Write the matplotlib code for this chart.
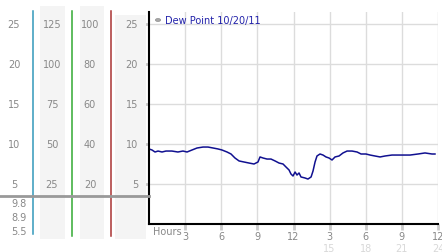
import matplotlib
matplotlib.use("Agg")
import matplotlib.pyplot as plt
from matplotlib.patches import Rectangle
import matplotlib.transforms as mtransforms

# ---- data ----
hours = [0.0, 0.25, 0.5, 0.75, 1.08, 1.41, 1.9, 2.4, 2.82, 3.16, 3.57, 3.99, 4.49, 4.9,
         5.32, 5.73, 6.06, 6.48, 6.81, 7.14, 7.48, 7.89, 8.31, 8.72, 9.05, 9.22, 9.47,
         9.8, 10.13, 10.47, 10.8, 11.13, 11.38, 11.63, 11.79, 11.96, 12.13, 12.29, 12.46,
         12.62, 12.96, 13.2, 13.46, 13.62, 13.79, 13.95, 14.2, 14.45, 14.7, 14.95, 15.2,
         15.45, 15.78, 16.11, 16.45, 16.86, 17.28, 17.61, 18.02, 18.36, 18.77, 19.19,
         19.6, 20.18, 20.85, 21.68, 22.34, 22.92, 23.5, 23.75]
dew_point = [9.38, 9.25, 9.0, 9.12, 9.0, 9.12, 9.12, 9.0, 9.12, 9.0, 9.25, 9.5, 9.62, 9.62,
             9.5, 9.38, 9.25, 9.0, 8.75, 8.25, 7.88, 7.75, 7.62, 7.5, 7.75, 8.38, 8.25,
             8.12, 8.12, 7.88, 7.62, 7.5, 7.12, 6.75, 6.25, 6.0, 6.5, 6.12, 6.38,
             5.88, 5.75, 5.62, 5.88, 6.62, 7.75, 8.5, 8.75, 8.62, 8.38, 8.25, 8.0,
             8.38, 8.5, 8.88, 9.12, 9.12, 9.0, 8.75, 8.75, 8.62, 8.5, 8.38,
             8.5, 8.62, 8.62, 8.62, 8.75, 8.88, 8.75, 8.75]

y_ticks = [5, 10, 15, 20, 25]
col1_labels = ["5", "10", "15", "20", "25"]
col2_labels = ["25", "50", "75", "100", "125"]
col3_labels = ["20", "40", "60", "80", "100"]
col4_labels = ["5", "10", "15", "20", "25"]
summary_labels = ["9.8", "8.9", "5.5"]
x_ticks = [3, 6, 9, 12, 15, 18, 21, 24]
x_labels_12h = ["3", "6", "9", "12", "3", "6", "9", "12"]
x_ticks_24h = [15, 18, 21, 24]
x_labels_24h = ["15", "18", "21", "24"]
legend_text = "Dew Point 10/20/11"

W, H = 442, 253
fig = plt.figure(figsize=(W / 100, H / 100), dpi=100)
fig.patch.set_facecolor("white")

YMAX = 26.5
bottom = (H - 225) / H
height = 212 / H
ax = fig.add_axes([149 / W, bottom, 289 / W, height])
ax.set_xlim(0, 24)
ax.set_ylim(0, YMAX)
for s in ["top", "right"]:
    ax.spines[s].set_visible(False)
ax.spines["left"].set_linewidth(1.5)
ax.spines["bottom"].set_linewidth(1.5)
ax.set_yticks(y_ticks)
ax.set_yticklabels([])
ax.set_xticks(x_ticks)
ax.set_xticklabels(x_labels_12h, fontsize=7, color="#888888")
ax.tick_params(axis="y", length=4, width=2, color="#cccccc", direction="out")
ax.tick_params(axis="x", length=4, width=2, color="#cccccc", direction="out", pad=1)
ax.grid(True, color="#dcdcdc", linewidth=1)
ax.set_axisbelow(True)

ax.plot(hours, dew_point, color="#101090", linewidth=1.1)

trans = mtransforms.blended_transform_factory(ax.transData, ax.transAxes)
for xv, lab in zip(x_ticks_24h, x_labels_24h):
    ax.text(xv, -0.115, lab, transform=trans, fontsize=7, color="#d8d8d8",
            ha="center", va="center")
ax.text(0.013, -0.035, "Hours", transform=ax.transAxes, fontsize=7, color="#888888",
        ha="left", va="center")

# legend
fig.text(165 / W, 1 - 21 / H, legend_text, fontsize=7, color="#2222aa",
         ha="left", va="center")
fig.patches.append(plt.Circle((158 / W, 1 - 21 / H), 2.6 / W, transform=fig.transFigure,
                              facecolor="#a8a8a8", edgecolor="#909090", lw=0.5))

# ---- left panel ----
axl = fig.add_axes([0, bottom, 149 / W, height])
axl.set_xlim(0, 149)
axl.set_ylim(0, YMAX)
axl.axis("off")

def py(p):
    return (225 - p) / 8.0

for x0, x1, top in [(40, 65, 7), (80, 104, 7), (115, 146, 16)]:
    axl.add_patch(Rectangle((x0, py(240)), x1 - x0, py(top) - py(240),
                            facecolor="#f4f4f4", edgecolor="none", clip_on=False, zorder=0))

for xv, col, endp in [(33, "#3399bb", 235), (72, "#33aa33", 237), (111, "#aa3333", 237)]:
    axl.plot([xv, xv], [py(12), py(endp)], color=col, linewidth=1.1, clip_on=False, zorder=2)

axl.plot([0, 149], [py(197), py(197)], color="#999999", linewidth=2, clip_on=False, zorder=3)

lc = "#888888"
for yv, a, b, c, d in zip(y_ticks, col1_labels, col2_labels, col3_labels, col4_labels):
    axl.text(14, yv, a, fontsize=7, color=lc, ha="center", va="center")
    axl.text(52, yv, b, fontsize=7, color=lc, ha="center", va="center")
    axl.text(90, yv, c, fontsize=7, color=lc, ha="center", va="center")
    axl.text(138, yv, d, fontsize=7, color=lc, ha="right", va="center")

for p, lab in zip([204, 218, 232], summary_labels):
    axl.text(27, py(p), lab, fontsize=7, color=lc, ha="right", va="center", clip_on=False)

fig.savefig("out.png", dpi=100)
